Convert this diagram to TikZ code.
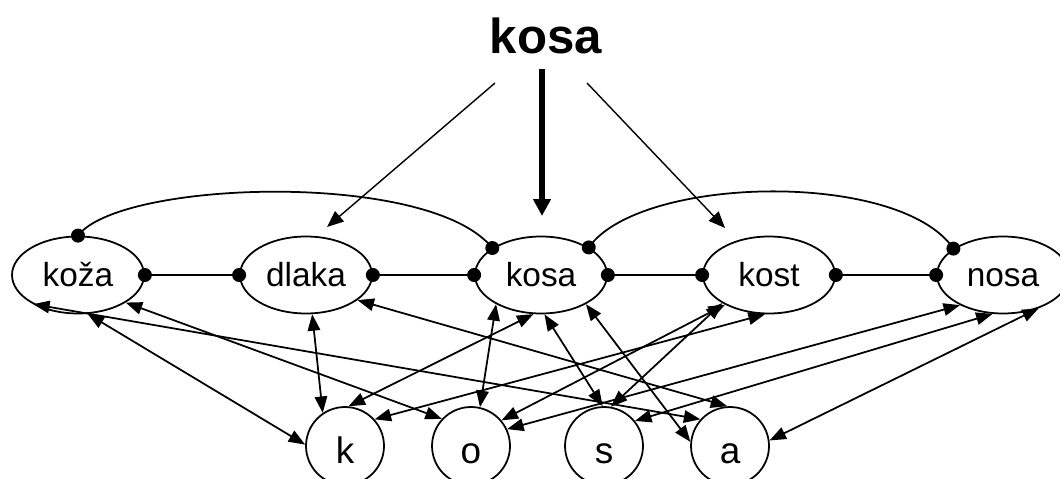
\documentclass[tikz,border=0pt]{standalone}
\usepackage{fontspec}
\setmainfont{Liberation Sans}
\usetikzlibrary{shapes.geometric,arrows.meta}

\begin{document}
\begin{tikzpicture}[x=0.02cm,y=-0.02cm,line width=1pt,
  >={Triangle[length=0.33cm,width=0.25cm]},
  word/.style={ellipse,draw,minimum width=2.64cm,minimum height=1.54cm,inner sep=0pt,
    text height=0.48cm,text depth=0pt,font=\fontsize{19}{22}\selectfont},
  letter/.style={circle,draw,minimum size=1.56cm,inner sep=0pt,
    text height=0.68cm,text depth=0pt,font=\fontsize{21}{25}\selectfont}]
\useasboundingbox (0,0) rectangle (1060,479);

\node (title) [font=\bfseries\fontsize{28}{32}\selectfont] at (546,36) {kosa};
\node (koza) [word] at (78,275) {koža};
\node (dlaka) [word] at (306,275) {dlaka};
\node (kosa) [word] at (541,275) {kosa};
\node (kost) [word] at (769,275) {kost};
\node (nosa) [word] at (1003,275) {nosa};
\node (k) [letter] at (345,446) {k};
\node (o) [letter] at (471,446) {o};
\node (s) [letter] at (604,446) {s};
\node (a) [letter] at (730,446) {a};

% from the word on top
\coordinate (t0) at (542,69);
\coordinate (t1) at (542,216);
\coordinate (l0) at (495,83);
\coordinate (l1) at (327,227);
\coordinate (r0) at (587,83);
\coordinate (r1) at (725,228);
\draw [->,line width=3.2pt,>={Triangle[length=0.34cm,width=0.34cm]}] (t0)--(t1);
\draw [->,line width=0.8pt,>={Triangle[length=0.33cm,width=0.27cm]}] (l0)--(l1);
\draw [->,line width=0.8pt,>={Triangle[length=0.33cm,width=0.27cm]}] (r0)--(r1);

% word level
\draw (koza.east)--(dlaka.west);
\draw (dlaka.east)--(kosa.west);
\draw (kosa.east)--(kost.west);
\draw (kost.east)--(nosa.west);
\draw (koza.north) .. controls (120,180) and (430,170) .. (kosa.151);
\draw (kosa.30) .. controls (640,175) and (900,170) .. (nosa.152);
\foreach \p in {koza.east,dlaka.west,dlaka.east,kosa.west,kosa.east,kost.west,
  kost.east,nosa.west,koza.north,kosa.151,kosa.30,nosa.152}
  \fill (\p) circle (0.14cm);

% word <-> letter
\draw [<->] (koza.-76)--(k.178);
\draw [<->] (koza.-30)--(o.137);
\draw [<->] (koza.213)--(a.138);
\draw [<->] (dlaka.-81)--(k.124);
\draw [<->] (dlaka.-26)--(a.94);
\draw [<->] (kosa.-101)--(k.85);
\draw [<->] (kosa.213)--(o.77);
\draw [<->] (kosa.-85)--(s.92);
\draw [<->] (kosa.-33)--(a.174);
\draw [<->] (kost.-96)--(k.42);
\draw [<->] (kost.214)--(o.40);
\draw [<->] (kost.211)--(s.80);
\draw [<->] (nosa.215)--(o.25);
\draw [<->] (nosa.-105)--(s.39);
\draw [<->] (nosa.-43)--(a.8);
\end{tikzpicture}
\end{document}
